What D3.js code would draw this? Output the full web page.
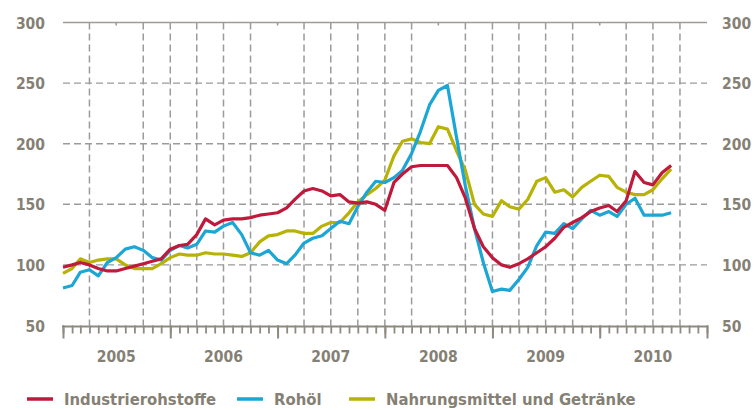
<!DOCTYPE html>
<html>
<head>
<meta charset="utf-8">
<script src="https://cdn.jsdelivr.net/npm/d3@7/dist/d3.min.js"></script>
<style>
  body { margin: 0; background: #fff; }
  svg { display: block; }
  text { font-family: "DejaVu Sans Condensed", "DejaVu Sans", sans-serif; font-weight: bold; fill: #858074; }
</style>
</head>
<body>
<svg id="chart" width="754" height="410"></svg>
<script>
// Monthly values, Jan 2005 to Sep 2010
const aIndustrie = [98, 100, 102, 100, 97, 95, 95, 97, 99, 101, 103, 105,
  113, 116, 117, 125, 138, 133, 137, 138, 138, 139, 141, 142,
  143, 147, 154, 161, 163, 161, 157, 158, 152, 151, 152, 150,
  145, 168, 175, 181, 182, 182, 182, 182, 172, 155, 130, 115,
  106, 100, 98, 101, 105, 110, 115, 122, 131, 135, 139, 144,
  147, 149, 144, 153, 177, 168, 166, 176, 182];
const aRohoel = [81, 83, 94, 96, 91, 102, 106, 113, 115, 112, 106, 104,
  112, 116, 114, 117, 128, 127, 132, 135, 125, 110, 108, 112,
  104, 101, 108, 118, 122, 124, 130, 136, 134, 148, 160, 169,
  168, 172, 178, 192, 210, 232, 244, 248, 205, 165, 130, 102,
  78, 80, 79, 88, 98, 116, 127, 126, 134, 130, 138, 145,
  141, 144, 140, 150, 155, 141, 141, 141, 143];
const aNahrung = [93, 97, 105, 102, 104, 105, 105, 100, 97, 97, 97, 101,
  106, 109, 108, 108, 110, 109, 109, 108, 107, 110, 119, 124,
  125, 128, 128, 126, 126, 132, 135, 135, 143, 152, 158, 163,
  170, 190, 202, 204, 201, 200, 214, 212, 194, 178, 150, 142,
  140, 153, 148, 146, 154, 169, 172, 160, 162, 156, 164, 169,
  174, 173, 164, 160, 158, 158, 162, 171, 179];
const aYears = ['2005', '2006', '2007', '2008', '2009', '2010'];
const aYTicks = [50, 100, 150, 200, 250, 300];
const aSeries = [
  { sName: 'Industrierohstoffe', aValues: aIndustrie, sColour: '#bf1a3b' },
  { sName: 'Rohöl', aValues: aRohoel, sColour: '#1ba6d6' },
  { sName: 'Nahrungsmittel und Getränke', aValues: aNahrung, sColour: '#b7b204' }
];

const jPadding = { l: 63, r: 47, t: 22.5, b: 84.5 };
const iWidth = 754;
const iHeight = 410;
const dStart = new Date(2005, 0, 1);
const dEnd = new Date(2011, 0, 1);
const aMonths = aIndustrie.map((v, i) => new Date(2005, i, 1));

const oSvg = d3.select('#chart');

const oScaleX = d3.scaleTime()
  .domain([dStart, dEnd])
  .range([jPadding.l, iWidth - jPadding.r]);
const oScaleY = d3.scaleLinear()
  .domain([50, 300])
  .range([iHeight - jPadding.b, jPadding.t]);

const [iX0, iX1] = oScaleX.range();
const sGrid = '#9b9b9b';

// Horizontal grid: solid top line, dashed in between
const oGridG = oSvg.append('g').attr('class', 'grid-g');
oGridG.selectAll('line.h-grid')
  .data(aYTicks.filter(v => v > 50 && v < 300))
  .enter()
  .append('line')
  .attr('class', 'h-grid')
  .attr('x1', iX0).attr('x2', iX1)
  .attr('y1', d => oScaleY(d)).attr('y2', d => oScaleY(d))
  .attr('stroke', sGrid)
  .attr('stroke-width', 1.4)
  .attr('stroke-dasharray', '7,4');
oGridG.append('line')
  .attr('x1', iX0).attr('x2', iX1)
  .attr('y1', oScaleY(300)).attr('y2', oScaleY(300))
  .attr('stroke', '#a09c94')
  .attr('stroke-width', 1.6);

// Vertical quarterly grid (some quarters have no line)
const aQuarters = d3.timeMonth.every(3).range(dStart, dEnd);
aQuarters.forEach((d, i) => {
  if (i === 0) return;
  const fX = oScaleX(d);
  if (i % 6 === 2) {
    oGridG.append('line')
      .attr('x1', fX).attr('x2', fX)
      .attr('y1', oScaleY(300)).attr('y2', oScaleY(300) + 3)
      .attr('stroke', sGrid).attr('stroke-width', 1.6);
    return;
  }
  oGridG.append('line')
    .attr('x1', fX).attr('x2', fX)
    .attr('y1', oScaleY(300)).attr('y2', oScaleY(50))
    .attr('stroke', sGrid)
    .attr('stroke-width', 1.5)
    .attr('stroke-dasharray', '7,4');
});

// Bottom axis: baseline with monthly and yearly ticks
const iBase = oScaleY(50);
const oAxisG = oSvg.append('g').attr('class', 'axes-g');
oAxisG.append('g')
  .attr('transform', `translate(0, ${iBase})`)
  .call(d3.axisBottom(oScaleX).ticks(d3.timeMonth.every(1)).tickSize(8).tickFormat(''))
  .call(g => g.select('.domain').remove())
  .call(g => g.selectAll('line').attr('stroke', '#8f8a80').attr('stroke-width', 1.8));
oAxisG.append('g')
  .attr('transform', `translate(0, ${iBase})`)
  .call(d3.axisBottom(oScaleX).ticks(d3.timeYear.every(1)).tickSize(13).tickFormat(''))
  .call(g => g.select('.domain').remove())
  .call(g => g.selectAll('line').attr('stroke', '#8f8a80').attr('stroke-width', 2));
oAxisG.append('line')
  .attr('x1', iX0 - 1).attr('x2', iX1 + 1)
  .attr('y1', iBase + 1).attr('y2', iBase + 1)
  .attr('stroke', '#8f8a80')
  .attr('stroke-width', 2.2);

// Year labels centred in each year
oAxisG.selectAll('text.year')
  .data(aYears)
  .enter()
  .append('text')
  .attr('class', 'year')
  .attr('x', d => oScaleX(new Date(+d, 6, 1)))
  .attr('y', 362)
  .attr('text-anchor', 'middle')
  .style('font-size', '15.5px')
  .text(d => d);

// Value labels on both sides
oAxisG.selectAll('text.y-left')
  .data(aYTicks)
  .enter()
  .append('text')
  .attr('class', 'y-left')
  .attr('x', 45)
  .attr('y', d => oScaleY(d) + 6)
  .attr('text-anchor', 'end')
  .style('font-size', '15.5px')
  .text(d => d);
oAxisG.selectAll('text.y-right')
  .data(aYTicks)
  .enter()
  .append('text')
  .attr('class', 'y-right')
  .attr('x', 722)
  .attr('y', d => oScaleY(d) + 6)
  .attr('text-anchor', 'start')
  .style('font-size', '15.5px')
  .text(d => d);

// Lines, drawn back to front
const fnLine = d3.line()
  .x((d, i) => oScaleX(aMonths[i]))
  .y(d => oScaleY(d));
const oLinesG = oSvg.append('g').attr('class', 'lines-g');
[aSeries[2], aSeries[1], aSeries[0]].forEach((s) => {
  oLinesG.append('path')
    .datum(s.aValues)
    .attr('d', fnLine)
    .attr('fill', 'none')
    .attr('stroke', s.sColour)
    .attr('stroke-width', 3.2)
    .attr('stroke-linejoin', 'round');
});

// Key
const aKeyX = [27, 237, 349];
const oKeyG = oSvg.append('g').attr('class', 'key-g');
aSeries.forEach((s, i) => {
  oKeyG.append('line')
    .attr('x1', aKeyX[i]).attr('x2', aKeyX[i] + 26)
    .attr('y1', 399).attr('y2', 399)
    .attr('stroke', s.sColour)
    .attr('stroke-width', 3.5);
  oKeyG.append('text')
    .attr('x', aKeyX[i] + 37)
    .attr('y', 405)
    .style('font-size', '16.5px')
    .text(s.sName);
});
</script>
</body>
</html>
